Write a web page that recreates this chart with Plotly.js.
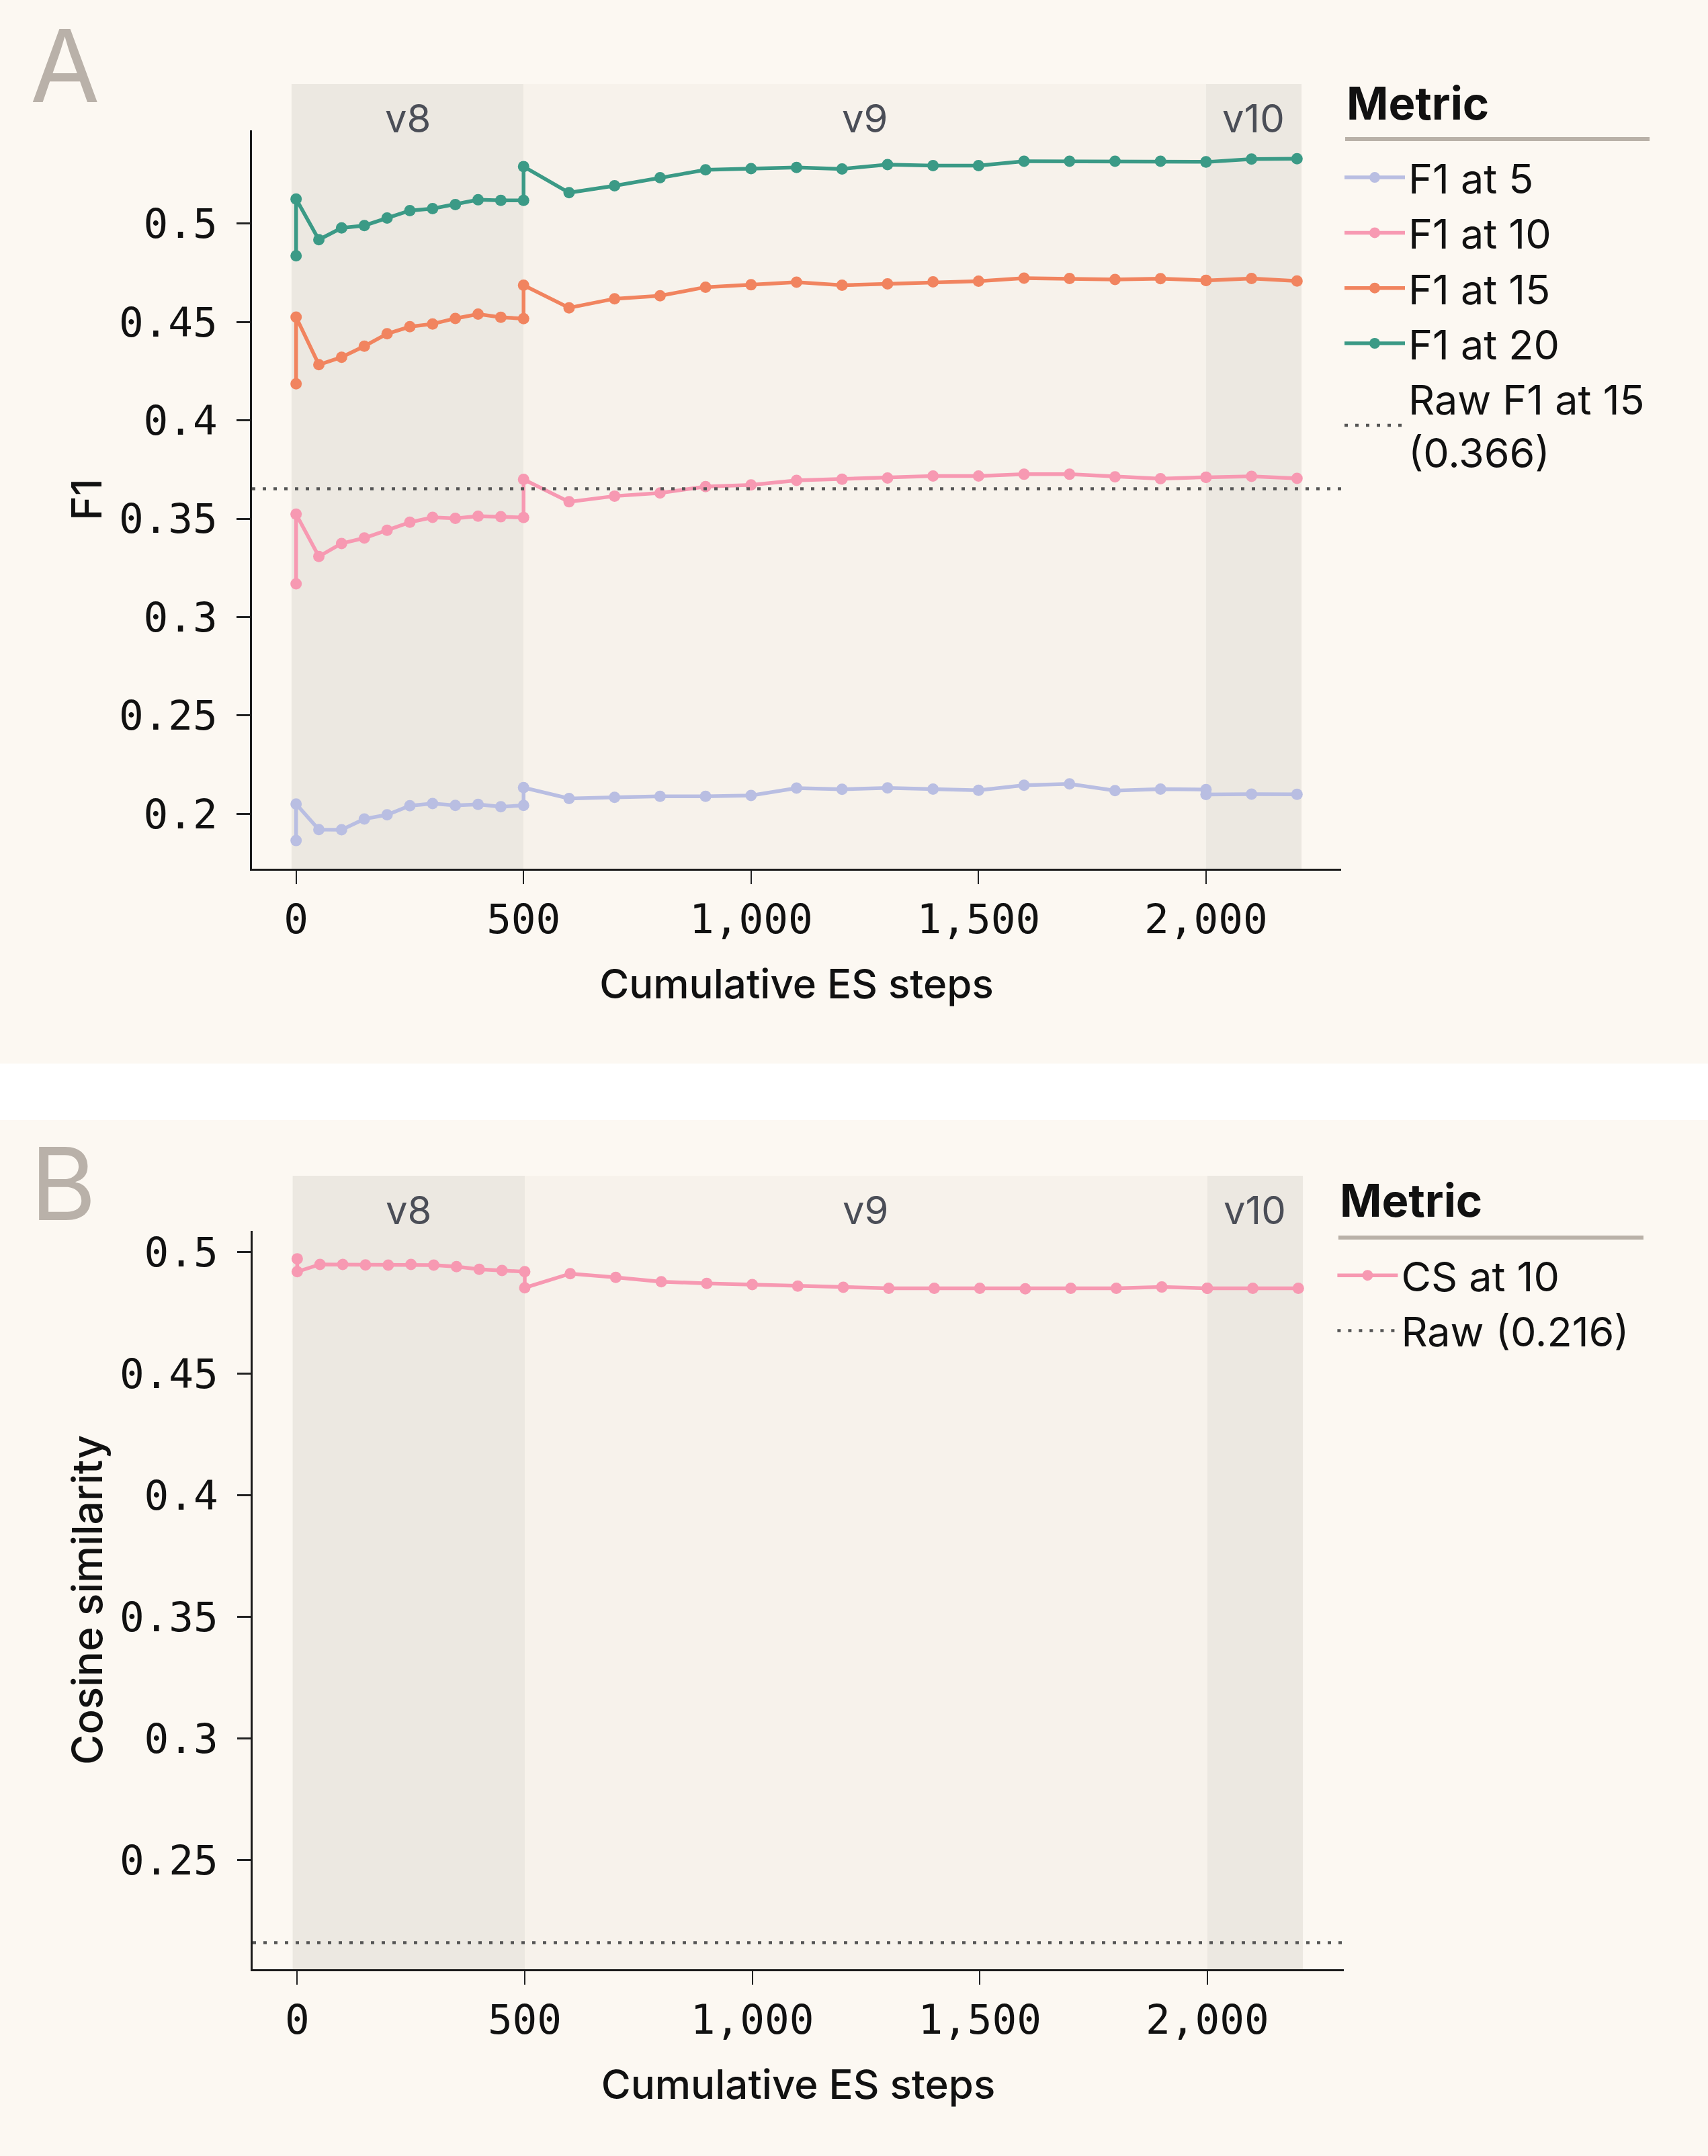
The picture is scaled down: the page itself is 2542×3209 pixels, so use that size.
<!DOCTYPE html>
<html>
<head>
<meta charset="utf-8">
<script src="https://cdn.plot.ly/plotly-3.0.1.min.js"></script>
<style>
  html, body { margin: 0; padding: 0; background: #ffffff; }
  #div_f1 { width: 2542px; height: 1583px; }
  #div_cs { width: 2542px; height: 1542px; margin-top: 84px; }
</style>
</head>
<body>
<div id="div_f1"></div>
<div id="div_cs"></div>
<script>
// Cumulative ES steps (0, 500 and 2000 appear twice: end of one version, start of the next)
const steps = [0, 0, 50, 100, 150, 200, 250, 300, 350, 400, 450, 500, 500,
  600, 700, 800, 900, 1000, 1100, 1200, 1300, 1400, 1500, 1600, 1700, 1800,
  1900, 2000, 2000, 2100, 2200];

const f1At5 = [0.1864, 0.2050, 0.1920, 0.1919, 0.1974, 0.1995, 0.2041, 0.2052,
  0.2043, 0.2048, 0.2036, 0.2043, 0.2133, 0.2078, 0.2084, 0.2089, 0.2089,
  0.2093, 0.2131, 0.2125, 0.2132, 0.2126, 0.2120, 0.2145, 0.2152, 0.2118,
  0.2126, 0.2123, 0.2098, 0.2100, 0.2099];
const f1At10 = [0.3169, 0.3523, 0.3308, 0.3374, 0.3402, 0.3441, 0.3482, 0.3507,
  0.3502, 0.3513, 0.3510, 0.3506, 0.3700, 0.3586, 0.3615, 0.3631, 0.3663,
  0.3672, 0.3695, 0.3701, 0.3707, 0.3717, 0.3717, 0.3726, 0.3726, 0.3713,
  0.3703, 0.3711, 0.3710, 0.3715, 0.3705];
const f1At15 = [0.4186, 0.4525, 0.4283, 0.4321, 0.4377, 0.4440, 0.4476, 0.4490,
  0.4518, 0.4540, 0.4524, 0.4517, 0.4687, 0.4572, 0.4618, 0.4633, 0.4677,
  0.4689, 0.4702, 0.4687, 0.4694, 0.4704, 0.4707, 0.4723, 0.4721, 0.4716,
  0.4720, 0.4712, 0.4711, 0.4721, 0.4708];
const f1At20 = [0.4836, 0.5125, 0.4918, 0.4978, 0.4990, 0.5028, 0.5066, 0.5076,
  0.5097, 0.5121, 0.5118, 0.5118, 0.5290, 0.5157, 0.5192, 0.5233, 0.5273,
  0.5279, 0.5285, 0.5278, 0.5300, 0.5295, 0.5295, 0.5317, 0.5317, 0.5317,
  0.5317, 0.5314, 0.5313, 0.5328, 0.5330];
const csAt10 = [0.4972, 0.4919, 0.4949, 0.4949, 0.4947, 0.4946, 0.4949, 0.4946,
  0.4940, 0.4929, 0.4924, 0.4919, 0.4853, 0.4911, 0.4896, 0.4878, 0.4871,
  0.4866, 0.4860, 0.4855, 0.4851, 0.4851, 0.4851, 0.4849, 0.4851, 0.4851,
  0.4856, 0.4851, 0.4851, 0.4851, 0.4851];

const rawF1At15 = 0.3652;
const rawCs = 0.216;

// Version bands
const bandLabels = ['v8', 'v9', 'v10'];
const bandStarts = [-10, 500, 2000];
const bandEnds = [500, 2000, 2210];
const bandColors = ['#ECE8E1', '#F7F2EB', '#ECE8E1'];

const f1Names = ['F1 at 5', 'F1 at 10', 'F1 at 15', 'F1 at 20'];
const f1Series = [f1At5, f1At10, f1At15, f1At20];
const f1Colors = ['#B9BEE2', '#F799B2', '#F1845F', '#3B9A86'];

var xRangeF1 = [-97, 2297];
var xRangeCs = [-98, 2300];

var cream = '#FCF8F2';
var sansFont = 'Inter, "Noto Sans", sans-serif';
var monoFont = '"DejaVu Sans Mono", "Liberation Mono", monospace';
var config = { staticPlot: true, displayModeBar: false };

function lineTrace(name, y, color) {
  return {
    x: steps,
    y: y,
    name: name,
    type: 'scatter',
    mode: 'lines+markers',
    line: { color: color, width: 5.5 },
    marker: { color: color, size: 17 },
  };
}

function rawTrace(name, value, xRange) {
  return {
    x: xRange,
    y: [value, value],
    name: name,
    type: 'scatter',
    mode: 'lines',
    line: { color: '#555555', width: 4.5, dash: '5px,11px' },
  };
}

function bandShapes(bandTop) {
  return bandLabels.map((label, i) => ({
    type: 'rect',
    layer: 'below',
    xref: 'x',
    yref: 'paper',
    x0: bandStarts[i],
    x1: bandEnds[i],
    y0: 0,
    y1: bandTop,
    fillcolor: bandColors[i],
    line: { width: 0 },
  }));
}

function bandAnnotations(labelY) {
  return bandLabels.map((label, i) => ({
    text: label,
    xref: 'x',
    yref: 'paper',
    x: (bandStarts[i] + bandEnds[i]) / 2,
    y: labelY,
    yanchor: 'middle',
    showarrow: false,
    font: { family: sansFont, size: 58, color: '#4B4E57' },
  }));
}

function baseLayout(opts) {
  return {
    width: 2542,
    height: opts.height,
    paper_bgcolor: cream,
    plot_bgcolor: cream,
    margin: opts.margin,
    showlegend: true,
    legend: {
      x: opts.legendX,
      y: opts.legendY,
      xanchor: 'left',
      yanchor: 'top',
      itemwidth: 90,
      bgcolor: 'rgba(0,0,0,0)',
      font: { family: sansFont, size: 61, color: '#111111' },
    },
    xaxis: {
      range: opts.xRange,
      tickvals: [0, 500, 1000, 1500, 2000],
      tickformat: ',d',
      ticks: 'outside',
      ticklen: 20,
      tickwidth: 2,
      tickcolor: '#222222',
      tickfont: { family: monoFont, size: 61, color: '#111111' },
      showline: true,
      linecolor: '#1A1A1A',
      linewidth: 3,
      showgrid: false,
      zeroline: false,
      title: {
        text: 'Cumulative ES steps',
        standoff: 42,
        font: { family: sansFont, size: 60, weight: 500, color: '#111111' },
      },
    },
    yaxis: {
      range: opts.yRange,
      tickvals: opts.yTicks,
      ticks: 'outside',
      ticklen: 20,
      tickwidth: 3,
      tickcolor: '#222222',
      ticklabelstandoff: 16,
      tickfont: { family: monoFont, size: 61, color: '#111111' },
      showline: true,
      linecolor: '#1A1A1A',
      linewidth: 3,
      showgrid: false,
      zeroline: false,
      title: {
        text: opts.yTitle,
        standoff: 6,
        font: { family: sansFont, size: 62, weight: 500, color: '#111111' },
      },
    },
    shapes: bandShapes(opts.bandTop).concat([
      {
        // rule under the legend title
        type: 'line',
        xref: 'paper',
        yref: 'paper',
        x0: opts.ruleX[0],
        x1: opts.ruleX[1],
        y0: opts.ruleY,
        y1: opts.ruleY,
        line: { color: '#B9B1A8', width: 6 },
      },
    ]),
    annotations: bandAnnotations(opts.labelY).concat([
      {
        text: opts.panel,
        xref: 'paper',
        yref: 'paper',
        x: opts.panelX,
        y: opts.panelY,
        xanchor: 'left',
        yanchor: 'middle',
        showarrow: false,
        font: { family: sansFont, size: 150, color: '#B9B1A9' },
      },
      {
        // legend heading
        text: '<b>Metric</b>',
        xref: 'paper',
        yref: 'paper',
        x: opts.ruleX[0],
        y: opts.titleY,
        xanchor: 'left',
        yanchor: 'middle',
        showarrow: false,
        font: { family: sansFont, size: 67, color: '#111111' },
      },
    ]),
  };
}

/**
 * PANEL A
 * F1 at several cut-offs over cumulative ES steps
 */
var chart_data_f1 = f1Series.map((series, i) =>
  lineTrace(f1Names[i], series, f1Colors[i])
);
chart_data_f1.push(rawTrace('Raw F1 at 15<br>(0.366)', rawF1At15, xRangeF1));

var chart_layout_f1 = baseLayout({
  height: 1583,
  margin: { l: 375, r: 546, t: 194, b: 290, pad: 0 },
  xRange: xRangeF1,
  yRange: [0.1721, 0.5474],
  yTicks: [0.2, 0.25, 0.3, 0.35, 0.4, 0.45, 0.5],
  yTitle: 'F1',
  bandTop: 1.0628,
  labelY: 1.0164,
  legendX: 1.0,
  legendY: 0.9782,
  ruleX: [1.0037, 1.2832],
  ruleY: 0.9882,
  titleY: 1.0373,
  panel: 'A',
  panelX: -0.205,
  panelY: 1.088,
});

Plotly.newPlot('div_f1', chart_data_f1, chart_layout_f1, config);

/**
 * PANEL B
 * Cosine similarity at 10
 */
var chart_data_cs = [
  lineTrace('CS at 10', csAt10, f1Colors[1]),
  rawTrace('Raw (0.216)', rawCs, xRangeCs),
];

var chart_layout_cs = baseLayout({
  height: 1542,
  margin: { l: 376, r: 542, t: 165, b: 278, pad: 0 },
  xRange: xRangeCs,
  yRange: [0.2051, 0.5087],
  yTicks: [0.25, 0.3, 0.35, 0.4, 0.45, 0.5],
  yTitle: 'Cosine similarity',
  bandTop: 1.0746,
  labelY: 1.0282,
  legendX: 0.991,
  legendY: 0.9818,
  ruleX: [0.995, 1.2746],
  ruleY: 0.9909,
  titleY: 1.041,
  panel: 'B',
  panelX: -0.205,
  panelY: 1.064,
});

Plotly.newPlot('div_cs', chart_data_cs, chart_layout_cs, config);
</script>
</body>
</html>
